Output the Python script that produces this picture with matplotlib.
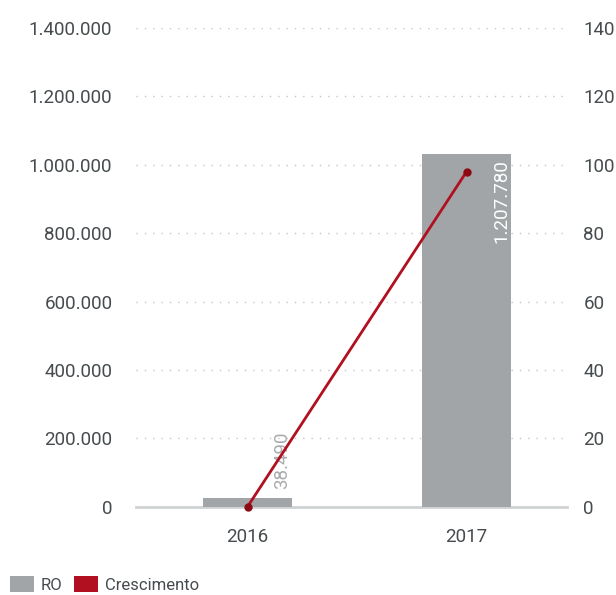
import matplotlib.pyplot as plt
from matplotlib.patches import Patch

years = ['2016', '2017']
ro = [25500, 1030000]
ro_labels = ['38.490', '1.207.780']
crescimento = [0, 98]
left_ticks = [0, 200000, 400000, 600000, 800000, 1000000, 1200000, 1400000]
left_ticklabels = ['0', '200.000', '400.000', '600.000', '800.000', '1.000.000', '1.200.000', '1.400.000']
right_ticks = [0, 20, 40, 60, 80, 100, 120, 140]

plt.rcParams['font.family'] = ['Roboto', 'DejaVu Sans']
txt = '#464b4e'
bar_c = '#a2a5a7'
red = '#b01020'

fig = plt.figure(figsize=(6.16, 5.95), dpi=100)
ax = fig.add_axes([0.2208, 0.1484, 0.6992, 0.8046])
x = list(range(len(years)))
ax.bar(x, ro, width=0.406, color=bar_c, zorder=2)
ax.set_xlim(-0.509, 1.457)
ax.set_ylim(0, 1400000)
ax.set_yticks(left_ticks)
ax.set_yticklabels(left_ticklabels)
ax.set_xticks(x)
ax.set_xticklabels(years)
ax.tick_params(axis='y', length=0, pad=17, labelsize=13.5, labelcolor=txt)
ax.tick_params(axis='x', length=0, pad=15, labelsize=13.5, labelcolor=txt)
for s in ['top', 'right', 'left']:
    ax.spines[s].set_visible(False)
ax.spines['bottom'].set_color('#cfd3d3')
ax.spines['bottom'].set_linewidth(2)
ax.spines['bottom'].set_zorder(1)
ax.grid(axis='y', linestyle=(0, (1, 5)), color='#c4c4c4', linewidth=1, zorder=0)
ax.set_axisbelow(True)

# value labels
ax.text(x[0] + 0.16, ro[0] + 25000, ro_labels[0], rotation=90, ha='center', va='bottom',
        fontsize=13.5, color='#a9abad', zorder=4)
ax.text(x[1] + 0.16, ro[1] - 15000, ro_labels[1], rotation=90, ha='center', va='top',
        fontsize=13.5, color='white', zorder=4)

ax2 = ax.twinx()
ax2.plot(x, crescimento, color=red, linewidth=2, marker='o', markersize=5,
         markerfacecolor='#8c0a14', markeredgecolor='#8c0a14', zorder=3, clip_on=False)
ax2.set_ylim(0, 140)
ax2.set_yticks(right_ticks)
ax2.tick_params(axis='y', length=0, pad=12, labelsize=13.5, labelcolor=txt)
for s in ax2.spines.values():
    s.set_visible(False)

handles = [Patch(facecolor=bar_c, label='RO'), Patch(facecolor=red, label='Crescimento')]
fig.legend(handles=handles, loc='lower left', bbox_to_anchor=(-0.008, -0.022), ncol=2,
           frameon=False, fontsize=12, labelcolor=txt, handlelength=1.45, handleheight=1.1,
           handletextpad=0.4, columnspacing=0.7)

fig.savefig('out.png', dpi=100)
